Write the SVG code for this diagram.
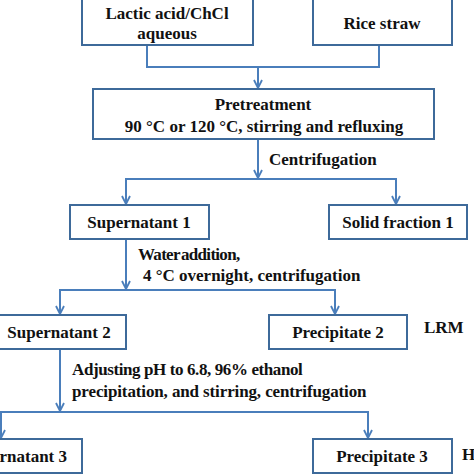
<svg xmlns="http://www.w3.org/2000/svg" width="474" height="474" viewBox="0 0 474 474">
<defs>
<marker id="ah" viewBox="0 0 10 10" refX="9" refY="5" markerWidth="10" markerHeight="10" markerUnits="userSpaceOnUse" orient="auto">
<polyline points="1,1 9,5 1,9" fill="none" stroke="#4A7EBB" stroke-width="1.8"/>
</marker>
<style>
.box{fill:#fff;stroke:#3E6A9A;stroke-width:2}
.ln{fill:none;stroke:#4A7EBB;stroke-width:2}
</style>
</defs>
<rect width="474" height="474" fill="#fff"/>
<g id="connectors">
<polyline class="ln" points="147,45 147,67 379,67 379,45"/>
<line class="ln" x1="258" y1="67" x2="258" y2="88" marker-end="url(#ah)"/>
<line class="ln" x1="258" y1="139" x2="258" y2="178" marker-end="url(#ah)"/>
<polyline class="ln" points="126,205 126,179 396,179 396,205"/>
<line class="ln" x1="126" y1="179" x2="126" y2="204" marker-end="url(#ah)"/>
<line class="ln" x1="396" y1="179" x2="396" y2="204" marker-end="url(#ah)"/>
<line class="ln" x1="126" y1="239" x2="126" y2="289" marker-end="url(#ah)"/>
<polyline class="ln" points="60,315 60,290 335,290 335,315"/>
<line class="ln" x1="60" y1="290" x2="60" y2="314" marker-end="url(#ah)"/>
<line class="ln" x1="335" y1="290" x2="335" y2="314" marker-end="url(#ah)"/>
<line class="ln" x1="60" y1="349" x2="60" y2="411" marker-end="url(#ah)"/>
<polyline class="ln" points="1,439 1,412 368,412 368,439"/>
<line class="ln" x1="1" y1="412" x2="1" y2="438" marker-end="url(#ah)"/>
<line class="ln" x1="368" y1="412" x2="368" y2="438" marker-end="url(#ah)"/>
<text font-family="'Liberation Serif', serif" font-weight="bold" font-size="17" fill="#111" x="269" y="165">Centrifugation</text>
<text font-family="'Liberation Serif', serif" font-weight="bold" font-size="17" fill="#111" letter-spacing="-0.7" word-spacing="-2" x="138" y="260">Water addition,</text>
<text font-family="'Liberation Serif', serif" font-weight="bold" font-size="17" fill="#111" x="143" y="281">4 °C overnight, centrifugation</text>
<text font-family="'Liberation Serif', serif" font-weight="bold" font-size="17" fill="#111" letter-spacing="-0.4" x="72" y="375">Adjusting pH to 6.8, 96% ethanol</text>
<text font-family="'Liberation Serif', serif" font-weight="bold" font-size="17" fill="#111" letter-spacing="-0.12" x="72" y="397">precipitation, and stirring, centrifugation</text>
</g>
<g id="lactic">
<rect class="box" x="82" y="-10" width="171" height="55"/>
<text font-family="'Liberation Serif', serif" font-weight="bold" font-size="17" fill="#111" text-anchor="middle" x="167" y="19">Lactic acid/ChCl</text>
<text font-family="'Liberation Serif', serif" font-weight="bold" font-size="17" fill="#111" text-anchor="middle" x="167" y="39">aqueous</text>
</g>
<g id="rice">
<rect class="box" x="313" y="-10" width="139" height="55"/>
<text font-family="'Liberation Serif', serif" font-weight="bold" font-size="17" fill="#111" text-anchor="middle" x="382" y="29">Rice straw</text>
</g>
<g id="pretreatment">
<rect class="box" x="93" y="89" width="341" height="50"/>
<text font-family="'Liberation Serif', serif" font-weight="bold" font-size="17" fill="#111" text-anchor="middle" x="263" y="110">Pretreatment</text>
<text font-family="'Liberation Serif', serif" font-weight="bold" font-size="17" fill="#111" text-anchor="middle" x="264" y="132">90 °C or 120 °C, stirring and refluxing</text>
</g>
<g id="sup1">
<rect class="box" x="70" y="205" width="139" height="34"/>
<text font-family="'Liberation Serif', serif" font-weight="bold" font-size="17" fill="#111" text-anchor="middle" x="139" y="228">Supernatant 1</text>
</g>
<g id="solid1">
<rect class="box" x="329" y="205" width="138" height="34"/>
<text font-family="'Liberation Serif', serif" font-weight="bold" font-size="17" fill="#111" text-anchor="middle" x="398" y="228">Solid fraction 1</text>
</g>
<g id="sup2">
<rect class="box" x="-60" y="315" width="186" height="34"/>
<text font-family="'Liberation Serif', serif" font-weight="bold" font-size="17" fill="#111" text-anchor="middle" x="59" y="338">Supernatant 2</text>
</g>
<g id="prec2">
<rect class="box" x="269" y="315" width="138" height="34"/>
<text font-family="'Liberation Serif', serif" font-weight="bold" font-size="17" fill="#111" text-anchor="middle" x="338" y="338">Precipitate 2</text>
<text font-family="'Liberation Serif', serif" font-weight="bold" font-size="17" fill="#111" x="424" y="333">LRM</text>
</g>
<g id="sup3">
<rect class="box" x="-60" y="439" width="142" height="34"/>
<text font-family="'Liberation Serif', serif" font-weight="bold" font-size="17" fill="#111" text-anchor="end" x="67" y="462">Supernatant 3</text>
</g>
<g id="prec3">
<rect class="box" x="313" y="439" width="139" height="34"/>
<text font-family="'Liberation Serif', serif" font-weight="bold" font-size="17" fill="#111" text-anchor="middle" x="382" y="462">Precipitate 3</text>
<text font-family="'Liberation Serif', serif" font-weight="bold" font-size="17" fill="#111" x="462" y="460">H</text>
</g>
</svg>
